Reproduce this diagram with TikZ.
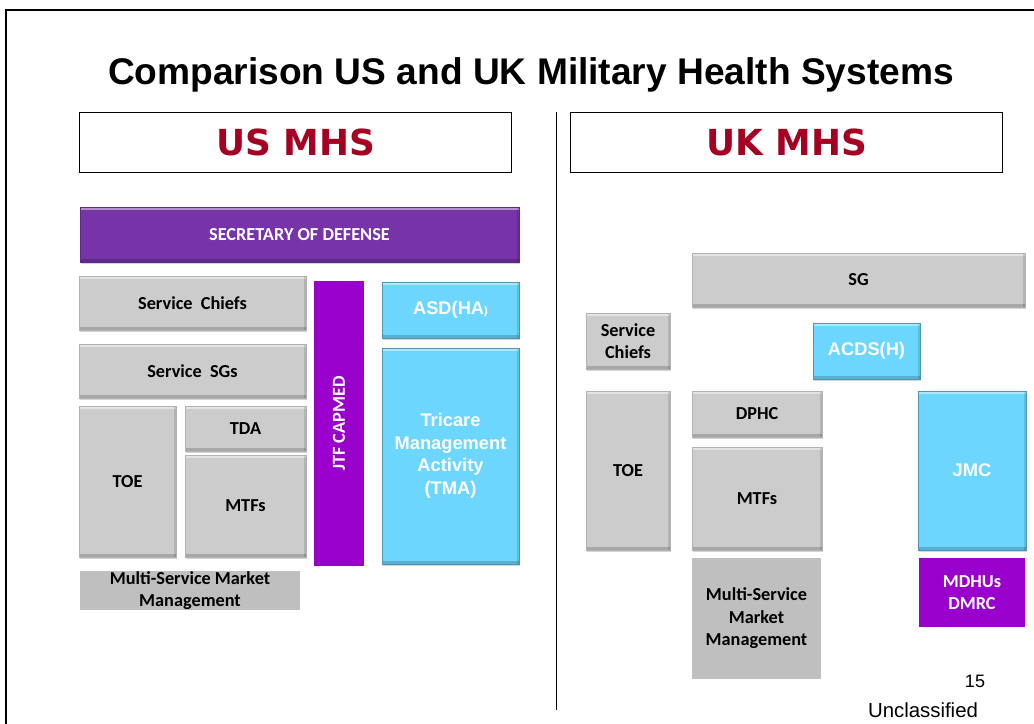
\documentclass[tikz,border=0pt]{standalone}
\usepackage{fontspec}
\setmainfont{Liberation Sans}
\newfontfamily\calib{Carlito}
\newfontfamily\verd{DejaVu Sans}
\usetikzlibrary{shadows}
\definecolor{mhsred}{HTML}{A50021}
\definecolor{secpurple}{HTML}{7733A8}
\definecolor{capmed}{HTML}{9900CC}
\definecolor{tblue}{HTML}{6DD6FF}
\definecolor{boxgray}{HTML}{CCCCCC}
\definecolor{flatgray}{HTML}{BFBFBF}
\begin{document}
\begin{tikzpicture}
    [x=0.025cm,y=-0.025cm,
     head/.style={draw, line width=0.7pt, minimum width=10.775cm, minimum height=1.5cm,
       text=mhsred, font=\verd\bfseries\fontsize{25.5}{30}\selectfont},
     bevel/.style={draw=black!30, inner sep=0pt, align=center,
       drop shadow={shadow xshift=0.8pt, shadow yshift=-1.2pt, opacity=0.35},
       path picture={
         \fill[white,opacity=0.45] (path picture bounding box.north west) rectangle ([yshift=-2pt]path picture bounding box.north east);
         \fill[black,opacity=0.18] (path picture bounding box.south west) rectangle ([yshift=2pt]path picture bounding box.south east);
         \fill[black,opacity=0.12] (path picture bounding box.north east) rectangle ([xshift=-1.5pt]path picture bounding box.south east);}},
     gbox/.style={bevel, fill=boxgray, font=\calib\bfseries\fontsize{13}{16}\selectfont},
     bbox/.style={bevel, fill=tblue, text=white, draw=tblue!70!black, font=\bfseries\fontsize{13}{16}\selectfont},
     flat/.style={fill=flatgray, inner sep=0pt, align=center, font=\calib\bfseries\fontsize{13}{16}\selectfont},
     pbox/.style={fill=capmed, text=white, inner sep=0pt, align=center, font=\calib\bfseries\fontsize{13}{16}\selectfont}]
    \useasboundingbox (0,0) rectangle (1034,724);

    % frame and title
    \coordinate (fbl) at (6,724);
    \coordinate (ftl) at (6,10);
    \coordinate (ftr) at (1034,10);
    \draw[line width=2pt] (fbl) -- (ftl) -- (ftr);
    \node (title) at (531,75) {\bfseries\fontsize{26.4}{30}\selectfont Comparison US and UK Military Health Systems};

    \node[head] (ushead) at (295.5,142) {US MHS};
    \node[head] (ukhead) at (786.5,142) {UK MHS};
    \coordinate (divtop) at (556,112);
    \coordinate (divbot) at (556,710);
    \draw[line width=0.7pt] (divtop) -- (divbot);

    % US side
    \node[bevel, fill=secpurple, text=white, draw=secpurple!80!black, minimum width=10.975cm, minimum height=1.375cm,
      font=\calib\bfseries\fontsize{13}{16}\selectfont] (secdef) at (299.5,234.5) {SECRETARY OF DEFENSE};
    \node[gbox, minimum width=5.675cm, minimum height=1.35cm] (uschiefs) at (192.5,303) {Service\ \ Chiefs};
    \node[gbox, minimum width=5.675cm, minimum height=1.35cm] (ussgs) at (192.5,371) {Service\ \ SGs};
    \node[gbox, minimum width=2.425cm, minimum height=3.775cm] (ustoe) at (127.5,481.5) {TOE};
    \node[gbox, minimum width=3.025cm, minimum height=1.125cm] (ustda) at (245.5,428.5) {TDA};
    \node[gbox, minimum width=3.025cm, minimum height=2.55cm] (usmtf) at (245.5,506) {MTFs};
    \node[flat, minimum width=5.5cm, minimum height=0.975cm] (usmarket) at (190,590.5) {Multi-Service Market\\Management};
    \node[pbox, rotate=90, minimum width=7.125cm, minimum height=1.25cm] (capmed) at (339,423.5) {JTF CAPMED};
    \node[bbox, minimum width=3.425cm, minimum height=1.4cm] (asd) at (450.5,310) {ASD(HA{\fontsize{8}{8}\selectfont)}};
    \node[bbox, minimum width=3.425cm, minimum height=5.4cm] (tma) at (450.5,456) {Tricare\\Management\\Activity\\(TMA)};

    % UK side
    \node[gbox, minimum width=8.325cm, minimum height=1.35cm] (uksg) at (858.5,280) {SG};
    \node[gbox, minimum width=2.1cm, minimum height=1.4cm] (ukchiefs) at (628,341) {Service\\Chiefs};
    \node[bbox, minimum width=2.675cm, minimum height=1.4cm] (acds) at (866.5,351) {ACDS(H)};
    \node[gbox, minimum width=2.1cm, minimum height=3.975cm] (uktoe) at (628,470.5) {TOE};
    \node[gbox, minimum width=3.25cm, minimum height=1.15cm] (dphc) at (757,414) {DPHC};
    \node[gbox, minimum width=3.25cm, minimum height=2.575cm] (ukmtf) at (757,498.5) {MTFs};
    \node[bbox, minimum width=2.7cm, minimum height=3.975cm] (jmc) at (972,470.5) {JMC};
    \node[flat, minimum width=3.225cm, minimum height=3.025cm] (ukmarket) at (756.5,618.5) {Multi-Service\\Market\\Management};
    \node[pbox, minimum width=2.65cm, minimum height=1.725cm] (mdhu) at (972,592.5) {MDHUs\\DMRC};

    \node[font=\fontsize{12.8}{14}\selectfont] (page) at (975,681) {15};
    \node[font=\fontsize{14.5}{16}\selectfont] (unclass) at (923,710) {Unclassified};
\end{tikzpicture}
\end{document}
